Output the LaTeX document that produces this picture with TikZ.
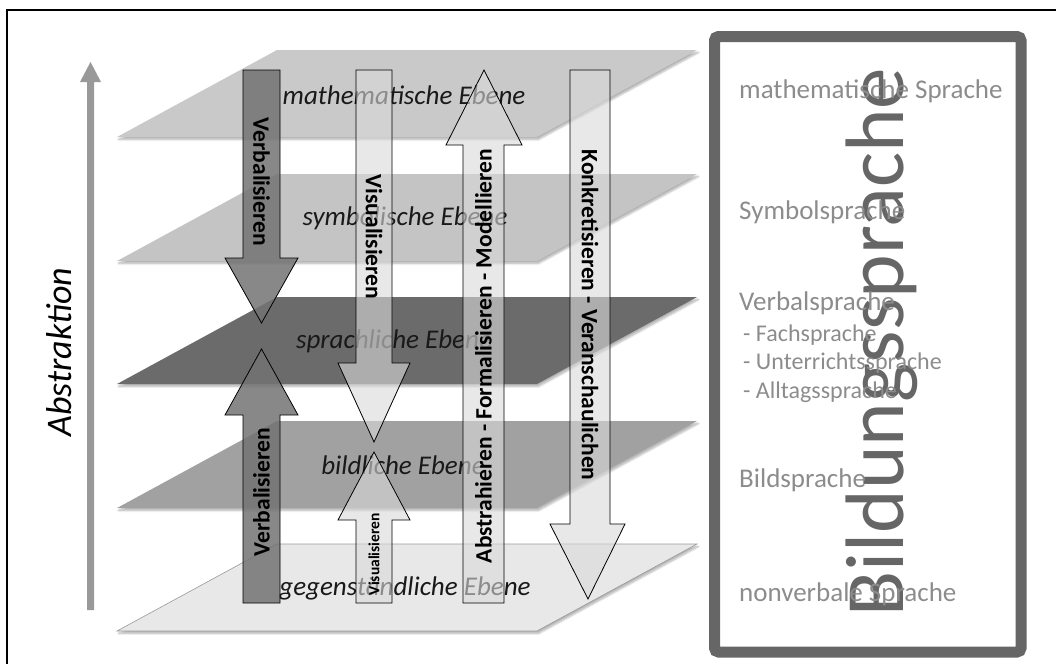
\documentclass[tikz,border=0pt]{standalone}
\usepackage{fontspec}
\setmainfont{Carlito}
\usetikzlibrary{shadows.blur}
\definecolor{planeone}{gray}{0.79}
\definecolor{planetwo}{gray}{0.77}
\definecolor{planethree}{gray}{0.42}
\definecolor{planefour}{gray}{0.63}
\definecolor{planefive}{gray}{0.91}
\definecolor{boxgray}{gray}{0.40}
\definecolor{langgray}{gray}{0.55}
\begin{document}
\begin{tikzpicture}[x=1pt,y=-1pt,
  plane/.style={blur shadow={shadow xshift=1.5pt, shadow yshift=-2.5pt, shadow blur steps=6, shadow opacity=30}},
  planelabel/.style={font=\itshape\fontsize{27}{27}\selectfont, text=black!90, inner sep=0pt},
  darkarrow/.style={draw=black, line width=0.8pt, fill=black!55, fill opacity=0.85, line join=miter},
  lightarrow/.style={draw=black, line width=0.8pt, fill=black!15, fill opacity=0.6, line join=miter},
  arrowlabel/.style={font=\bfseries\fontsize{23.5}{23.5}\selectfont, text=black, inner sep=0pt},
  langlabel/.style={font=\fontsize{27}{27}\selectfont, text=langgray, anchor=base west, inner sep=0pt},
  sublabel/.style={font=\fontsize{24}{24}\selectfont, text=langgray, anchor=base west, inner sep=0pt}]

\path[use as bounding box] (0,0) rectangle (1056,664);

% frame
\draw[black, line width=1.3pt] (7,664) -- (7,10) -- (1056,10);

% abstraction axis
\fill[black!40] (87,610) -- (94,610) -- (94,82) -- (101,82) -- (90.5,62) -- (80,82) -- (87,82) -- cycle;
\node[font=\itshape\fontsize{36}{36}\selectfont, rotate=90, anchor=base, inner sep=0pt] (abstr) at (71,352) {Abstraktion};

% the five planes
\fill[planeone, plane]   (117,137) -- (537,137) -- (697,50)  -- (277,50)  -- cycle;
\fill[planetwo, plane]   (117,261) -- (537,261) -- (697,174) -- (277,174) -- cycle;
\fill[planethree, plane] (117,384) -- (537,384) -- (697,297) -- (277,297) -- cycle;
\fill[planefour, plane]  (117,508) -- (537,508) -- (697,421) -- (277,421) -- cycle;
\filldraw[fill=planefive, draw=black!40, line width=0.6pt, plane] (117,631) -- (537,631) -- (697,544) -- (277,544) -- cycle;

\node[planelabel] (mathe) at (404,95)  {mathematische Ebene};
\node[planelabel] (symb)  at (405,218) {symbolische Ebene};
\node[planelabel] (sprach) at (394,341) {sprachliche Ebene};
\node[planelabel] (bild)  at (403,465) {bildliche Ebene};
\node[planelabel] (gegen) at (405,588) {gegenständliche Ebene};

% transition arrows
\path[darkarrow]  (243,70)  -- (280,70)  -- (280,258) -- (298,258) -- (261.5,323) -- (225,258) -- (243,258) -- cycle;
\path[darkarrow]  (243,603) -- (280,603) -- (280,415) -- (298,415) -- (261.5,349) -- (225,415) -- (243,415) -- cycle;
\path[lightarrow] (356,70)  -- (392,70)  -- (392,363) -- (410,363) -- (374,442) -- (338,363) -- (356,363) -- cycle;
\path[lightarrow] (356,603) -- (392,603) -- (392,520) -- (410,520) -- (374,452) -- (338,520) -- (356,520) -- cycle;
\path[lightarrow] (463,603) -- (504,603) -- (504,145) -- (522,145) -- (484,70)  -- (446,145) -- (463,145) -- cycle;
\path[lightarrow] (570,70)  -- (610,70)  -- (610,524) -- (625,524) -- (588,599) -- (550,524) -- (570,524) -- cycle;

\node[arrowlabel, rotate=-90] (verbdown) at (261.5,182) {Verbalisieren};
\node[arrowlabel, rotate=90]  (verbup)   at (261.5,492) {Verbalisieren};
\node[arrowlabel, rotate=-90] (visdown)  at (374,237)   {Visualisieren};
\node[arrowlabel, rotate=90, font=\bfseries\fontsize{15.5}{15.5}\selectfont] (visup) at (374,554) {Visualisieren};
\node[arrowlabel, rotate=90]  (abstrup)  at (483.5,356) {Abstrahieren - Formalisieren - Modellieren};
\node[arrowlabel, rotate=-90] (konkdown) at (590,315)   {Konkretisieren - Veranschaulichen};

% language box
\draw[boxgray, line width=11pt, rounded corners=4pt] (714.5,36.5) rectangle (1021,652);
\node[font=\fontsize{83}{83}\selectfont, text=boxgray, rotate=90, anchor=base, inner sep=0pt] (bildung) at (903,342) {Bildungssprache};

\node[langlabel] (mathspr)  at (739,98)  {mathematische Sprache};
\node[langlabel] (symbspr)  at (739,219) {Symbolsprache};
\node[langlabel] (verbspr)  at (739,310) {Verbalsprache};
\node[sublabel]  (fachspr)  at (743,341) {- Fachsprache};
\node[sublabel]  (untspr)   at (743,369) {- Unterrichtssprache};
\node[sublabel]  (alltspr)  at (743,398) {- Alltagssprache};
\node[langlabel] (bildspr)  at (739,487) {Bildsprache};
\node[langlabel] (nonvspr)  at (739,601) {nonverbale Sprache};

\end{tikzpicture}
\end{document}
